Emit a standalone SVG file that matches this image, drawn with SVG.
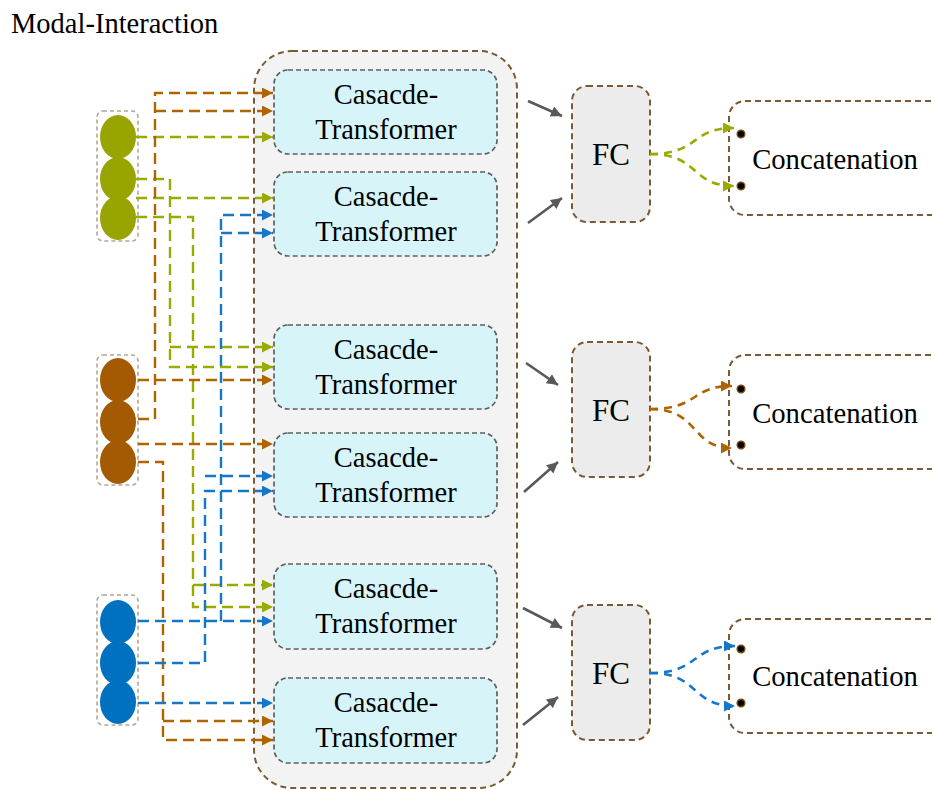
<svg xmlns="http://www.w3.org/2000/svg" width="932" height="790" viewBox="0 0 932 790">
  <style>
    .lbl { font-family: "Liberation Serif", "Times New Roman", serif; fill: #000; text-anchor: middle; }
    .ct { fill: #d7f4f8; stroke: #5f5f5f; stroke-width: 1.7; stroke-dasharray: 5 3; }
    .fc { fill: #ececec; stroke: #7a5a34; stroke-width: 2; stroke-dasharray: 6 4; }
    .cat { fill: #ffffff; stroke: #7a5a34; stroke-width: 2; stroke-dasharray: 6 4; }
    .grp { fill: #ffffff; stroke: #b5a593; stroke-width: 1.6; stroke-dasharray: 4 3; }
    .c { fill: none; stroke-width: 2.4; stroke-dasharray: 11 6; }
    .g { stroke: #9aaa00; }
    .b { stroke: #b06400; }
    .u { stroke: #1677c9; }
    .cv { stroke-width: 2.6; stroke-dasharray: 8 6; }
    .gray { fill: none; stroke: #595959; stroke-width: 2.6; }
    .dot { fill: #000; stroke: #7a4a10; stroke-width: 1.5; }
  </style>
  <defs>
    <marker id="ah-g" viewBox="0 0 10 10" refX="10" refY="5" markerWidth="12" markerHeight="11" markerUnits="userSpaceOnUse" orient="auto"><path d="M0,0 L10,5 L0,10 z" fill="#9aaa00"/></marker>
    <marker id="ah-b" viewBox="0 0 10 10" refX="10" refY="5" markerWidth="12" markerHeight="11" markerUnits="userSpaceOnUse" orient="auto"><path d="M0,0 L10,5 L0,10 z" fill="#b06400"/></marker>
    <marker id="ah-u" viewBox="0 0 10 10" refX="10" refY="5" markerWidth="12" markerHeight="11" markerUnits="userSpaceOnUse" orient="auto"><path d="M0,0 L10,5 L0,10 z" fill="#1677c9"/></marker>
    <marker id="ah-k" viewBox="0 0 10 10" refX="10" refY="5" markerWidth="13" markerHeight="11" markerUnits="userSpaceOnUse" orient="auto"><path d="M0,0 L10,5 L0,10 z" fill="#595959"/></marker>
  </defs>

  <rect width="932" height="790" fill="#ffffff"/>

  <text class="lbl" x="11" y="33" font-size="28.5" style="text-anchor:start">Modal-Interaction</text>

  <!-- container holding the six cascade transformers -->
  <g id="modal-interaction">
    <rect x="254" y="51" width="263" height="737" rx="38" fill="#f3f3f3" stroke="#7a5a34" stroke-width="2" stroke-dasharray="6 4"/>
  </g>

  <!-- feature groups -->
  <g id="group-green">
    <rect class="grp" x="97" y="111" width="41" height="130" rx="6"/>
    <ellipse cx="118" cy="218" rx="18" ry="22" fill="#98a400"/>
    <ellipse cx="118" cy="179" rx="18" ry="22" fill="#98a400"/>
    <ellipse cx="118" cy="137" rx="18" ry="22" fill="#98a400"/>
  </g>
  <g id="group-brown">
    <rect class="grp" x="97" y="355" width="41" height="130" rx="6"/>
    <ellipse cx="118" cy="462" rx="18" ry="22" fill="#a45a00"/>
    <ellipse cx="118" cy="422" rx="18" ry="22" fill="#a45a00"/>
    <ellipse cx="118" cy="380" rx="18" ry="22" fill="#a45a00"/>
  </g>
  <g id="group-blue">
    <rect class="grp" x="97" y="595" width="41" height="130" rx="6"/>
    <ellipse cx="118" cy="702" rx="18" ry="22" fill="#0070c0"/>
    <ellipse cx="118" cy="663" rx="18" ry="22" fill="#0070c0"/>
    <ellipse cx="118" cy="622" rx="18" ry="22" fill="#0070c0"/>
  </g>

  <!-- cascade transformer blocks -->
  <g id="ct1"><rect class="ct" x="274" y="70" width="223" height="84" rx="14"/><text class="lbl" font-size="28.5" x="386" y="104">Casacde-</text><text class="lbl" font-size="28.5" x="386" y="139">Transformer</text></g>
  <g id="ct2"><rect class="ct" x="274" y="172" width="223" height="84" rx="14"/><text class="lbl" font-size="28.5" x="386" y="206">Casacde-</text><text class="lbl" font-size="28.5" x="386" y="241">Transformer</text></g>
  <g id="ct3"><rect class="ct" x="274" y="325" width="223" height="84" rx="14"/><text class="lbl" font-size="28.5" x="386" y="359">Casacde-</text><text class="lbl" font-size="28.5" x="386" y="394">Transformer</text></g>
  <g id="ct4"><rect class="ct" x="274" y="433" width="223" height="84" rx="14"/><text class="lbl" font-size="28.5" x="386" y="467">Casacde-</text><text class="lbl" font-size="28.5" x="386" y="502">Transformer</text></g>
  <g id="ct5"><rect class="ct" x="274" y="564" width="223" height="85" rx="14"/><text class="lbl" font-size="28.5" x="386" y="598">Casacde-</text><text class="lbl" font-size="28.5" x="386" y="633">Transformer</text></g>
  <g id="ct6"><rect class="ct" x="274" y="678" width="223" height="85" rx="14"/><text class="lbl" font-size="28.5" x="386" y="712">Casacde-</text><text class="lbl" font-size="28.5" x="386" y="747">Transformer</text></g>

  <!-- fully connected blocks -->
  <g id="fc1"><rect class="fc" x="572" y="86" width="78" height="136" rx="15"/><text class="lbl" font-size="31" x="611" y="165">FC</text></g>
  <g id="fc2"><rect class="fc" x="572" y="342" width="78" height="135" rx="15"/><text class="lbl" font-size="31" x="611" y="421">FC</text></g>
  <g id="fc3"><rect class="fc" x="572" y="605" width="78" height="135" rx="15"/><text class="lbl" font-size="31" x="611" y="684">FC</text></g>

  <!-- concatenation blocks -->
  <g id="cat1"><rect class="cat" x="729" y="101" width="220" height="114" rx="16"/><text class="lbl" font-size="28.7" x="835" y="169">Concatenation</text><circle class="dot" cx="741" cy="134" r="3.8"/><circle class="dot" cx="741" cy="186" r="3.8"/></g>
  <g id="cat2"><rect class="cat" x="729" y="355" width="220" height="114" rx="16"/><text class="lbl" font-size="28.7" x="835" y="423">Concatenation</text><circle class="dot" cx="741" cy="389" r="3.8"/><circle class="dot" cx="741" cy="445" r="3.8"/></g>
  <g id="cat3"><rect class="cat" x="729" y="619" width="220" height="114" rx="16"/><text class="lbl" font-size="28.7" x="835" y="686">Concatenation</text><circle class="dot" cx="741" cy="649" r="3.8"/><circle class="dot" cx="741" cy="703" r="3.8"/></g>

  <g id="connectors">
    <!-- green features -->
    <path class="c g" d="M136,137 H273" marker-end="url(#ah-g)"/>
    <path class="c g" d="M136,198 H273" marker-end="url(#ah-g)"/>
    <path class="c g" d="M136,179 H170 V367 H273" marker-end="url(#ah-g)"/>
    <path class="c g" d="M170,347 H273" marker-end="url(#ah-g)"/>
    <path class="c g" d="M136,217 H193 V607 H273" marker-end="url(#ah-g)"/>
    <path class="c g" d="M193,585 H273" marker-end="url(#ah-g)"/>
    <!-- brown features -->
    <path class="c b" d="M138,419 H155 V93 H273" marker-end="url(#ah-b)"/>
    <path class="c b" d="M155,111 H273" marker-end="url(#ah-b)"/>
    <path class="c b" d="M138,380 H273" marker-end="url(#ah-b)"/>
    <path class="c b" d="M138,444 H273" marker-end="url(#ah-b)"/>
    <path class="c b" d="M138,462 H163 V740 H273" marker-end="url(#ah-b)"/>
    <path class="c b" d="M163,721 H273" marker-end="url(#ah-b)"/>
    <!-- blue features -->
    <path class="c u" d="M138,621 H273" marker-end="url(#ah-u)"/>
    <path class="c u" d="M221,621 V215 H273" marker-end="url(#ah-u)"/>
    <path class="c u" d="M221,233 H273" marker-end="url(#ah-u)"/>
    <path class="c u" d="M138,663 H205 V491 H273" marker-end="url(#ah-u)"/>
    <path class="c u" d="M205,476 H273" marker-end="url(#ah-u)"/>
    <path class="c u" d="M138,703 H273" marker-end="url(#ah-u)"/>

    <!-- transformer outputs into FC -->
    <path class="gray" d="M528,101 L562,116" marker-end="url(#ah-k)"/>
    <path class="gray" d="M528,223 L562,198" marker-end="url(#ah-k)"/>
    <path class="gray" d="M526,363 L558,385" marker-end="url(#ah-k)"/>
    <path class="gray" d="M524,492 L558,462" marker-end="url(#ah-k)"/>
    <path class="gray" d="M523,608 L562,628" marker-end="url(#ah-k)"/>
    <path class="gray" d="M523,725 L558,697" marker-end="url(#ah-k)"/>

    <!-- FC to concatenation -->
    <path class="c cv g" d="M650,154 C700,154 690,128 734,128" marker-end="url(#ah-g)"/>
    <path class="c cv g" d="M650,154 C700,154 690,186 734,186" marker-end="url(#ah-g)"/>
    <path class="c cv b" d="M650,409 C700,409 690,386 732,386" marker-end="url(#ah-b)"/>
    <path class="c cv b" d="M650,409 C700,409 690,448 732,448" marker-end="url(#ah-b)"/>
    <path class="c cv u" d="M650,673 C700,673 690,646 735,646" marker-end="url(#ah-u)"/>
    <path class="c cv u" d="M650,673 C700,673 690,706 735,706" marker-end="url(#ah-u)"/>
  </g>
</svg>
